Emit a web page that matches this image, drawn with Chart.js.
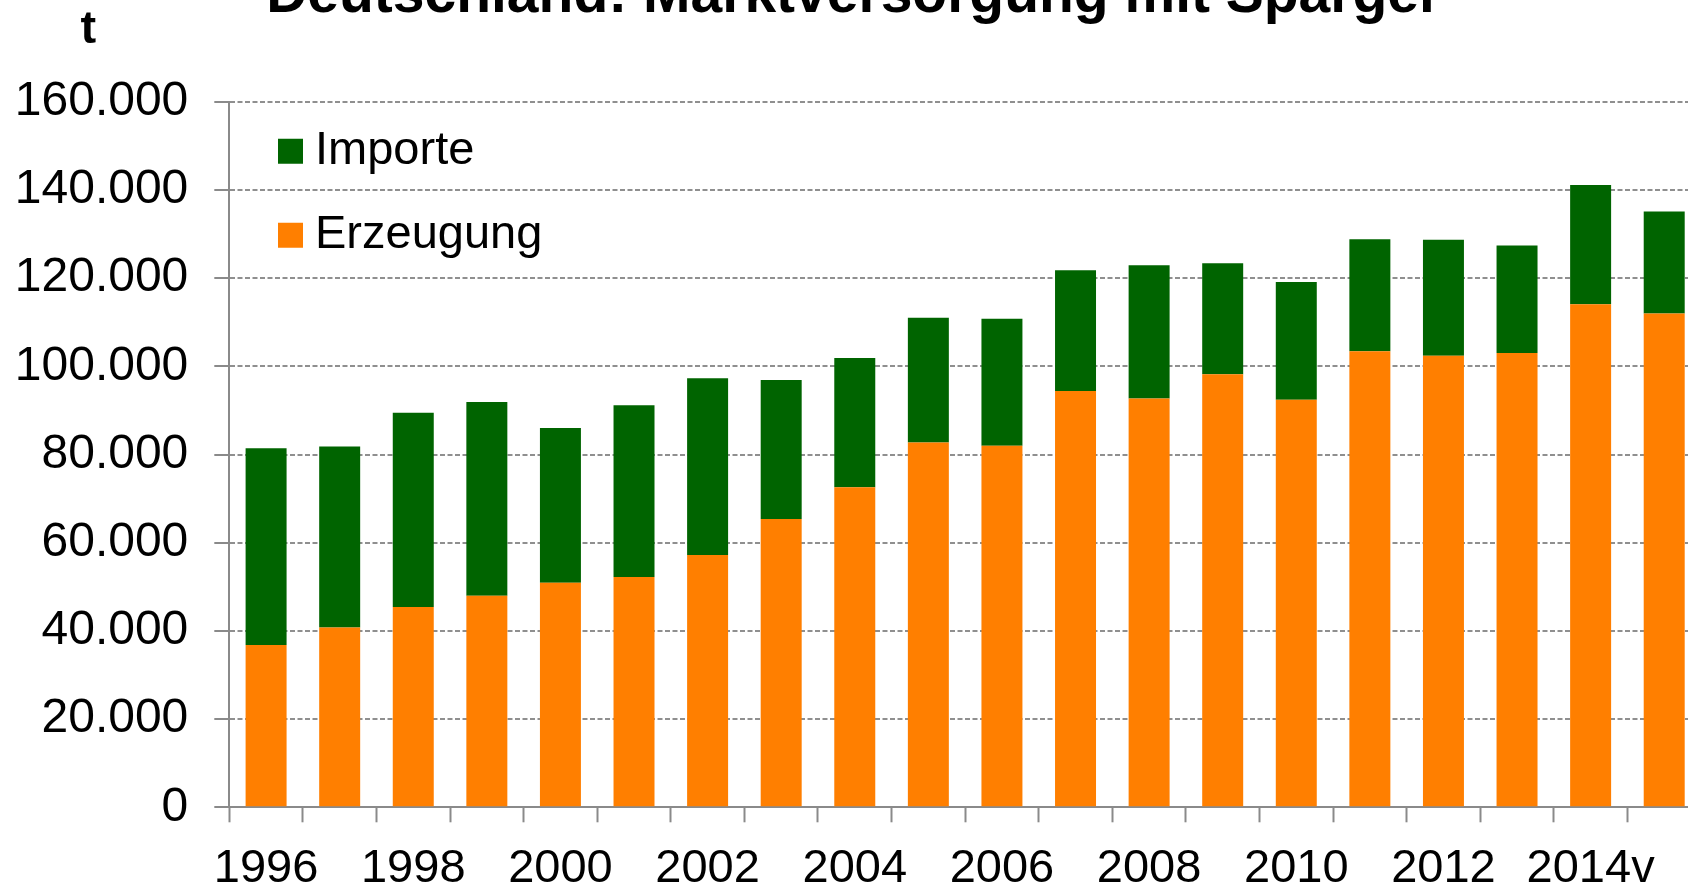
<!DOCTYPE html>
<html>
<head>
<meta charset="utf-8">
<script src="https://cdn.jsdelivr.net/npm/chart.js@4/dist/chart.umd.min.js"></script>
<style>
  html, body { margin: 0; padding: 0; background: #fff; overflow: hidden; width: 1688px; height: 887px; }
  #wrap { position: absolute; left: 0; top: -40px; width: 1710px; height: 940px; }
</style>
</head>
<body>
<div id="wrap"><canvas id="c"></canvas></div>
<script>
const years = ['1996','1997','1998','1999','2000','2001','2002','2003','2004','2005',
               '2006','2007','2008','2009','2010','2011','2012','2013','2014v','2015v'];
const erzeugung = [36800, 40800, 45400, 48000, 50900, 52200, 57200, 65400, 72600, 82700,
                   82000, 94400, 92700, 98200, 92400, 103400, 102400, 103000, 114100, 112000];
const importe   = [44600, 41000, 44100, 43900, 35100, 39000, 40100, 31500, 29300, 28300,
                   28800, 27400, 30200, 25200, 26700, 25400, 26300, 24400, 27000, 23100];
const yMax = 160000;
const yStep = 20000;
const titleText = 'Deutschland: Marktversorgung mit Spargel';
const unitText = 't';

const FONT = '"Liberation Sans", Arial, sans-serif';
const GREEN = '#006400';
const ORANGE = '#ff7f00';
const GREY = '#8a8a8a';
const GRIDGREY = '#8f8f8f';

function fmt(v) {
  return String(v).replace(/\B(?=(\d{3})+(?!\d))/g, '.');
}

const unitPlugin = {
  id: 'unitLabel',
  afterLayout(chart) {
    const ca = chart.chartArea;
    const lg = chart.legend;
    if (lg) {
      lg.left = ca.left + 23.2;
      lg.top = ca.top - 11;
      lg.right = ca.right;
      lg.bottom = ca.bottom;
      lg.width = lg.right - lg.left;
      lg.height = lg.bottom - lg.top;
    }
  },
  afterDraw(chart) {
    const ca = chart.chartArea;
    const ctx = chart.ctx;
    ctx.save();
    ctx.font = 'bold 47px ' + FONT;
    ctx.fillStyle = '#000';
    ctx.textAlign = 'center';
    ctx.textBaseline = 'alphabetic';
    ctx.fillText(unitText, ca.left - 141, ca.top - 58.7);
    ctx.restore();
  }
};

new Chart(document.getElementById('c'), {
  type: 'bar',
  data: {
    labels: years,
    datasets: [
      { label: 'Erzeugung', data: erzeugung, backgroundColor: ORANGE, borderWidth: 0 },
      { label: 'Importe', data: importe, backgroundColor: GREEN, borderWidth: 0 }
    ]
  },
  plugins: [unitPlugin],
  options: {
    responsive: true,
    maintainAspectRatio: false,
    animation: false,
    devicePixelRatio: 1,
    layout: { padding: { left: 0, right: 9, top: 0, bottom: 0 } },
    datasets: { bar: { barPercentage: 0.557, categoryPercentage: 1 } },
    plugins: {
      title: {
        display: true,
        text: titleText,
        color: '#000',
        font: { family: FONT, size: 57, weight: 'bold', lineHeight: 1 },
        padding: { top: 7.75, bottom: 77 }
      },
      legend: {
        position: 'chartArea',
        align: 'start',
        reverse: true,
        labels: {
          color: '#000',
          font: { family: FONT, size: 47 },
          boxWidth: 2,
          boxHeight: 2,
          padding: 37,
          generateLabels(chart) {
            const items = Chart.defaults.plugins.legend.labels.generateLabels(chart);
            items.forEach(it => {
              it.lineWidth = 23;
              it.strokeStyle = it.fillStyle;
              it.lineJoin = 'miter';
            });
            return items;
          }
        }
      },
      tooltip: { enabled: false }
    },
    scales: {
      x: {
        stacked: true,
        afterFit(s) { s.height = 92.7; },
        grid: { display: true, drawOnChartArea: false, drawTicks: true, tickLength: 15, tickColor: GREY, tickWidth: 2, offset: true },
        border: { display: true, color: GREY, width: 2 },
        ticks: {
          color: '#000',
          font: { family: FONT, size: 47 },
          padding: 19,
          autoSkip: false,
          maxRotation: 0,
          minRotation: 0,
          callback(value, index) { return index % 2 === 0 ? years[index] : ''; }
        }
      },
      y: {
        stacked: true,
        min: 0,
        max: yMax,
        afterFit(s) { s.width = 229.3; },
        grid: { display: true, drawOnChartArea: true, color: GRIDGREY, lineWidth: 2, drawTicks: true, tickLength: 15, tickColor: GREY, tickWidth: 2 },
        border: { display: true, color: GREY, width: 2, dash: [5, 2.5] },
        ticks: {
          stepSize: yStep,
          color: '#000',
          font: { family: FONT, size: 48 },
          padding: 26,
          callback(v) { return fmt(v); }
        }
      }
    }
  }
});
</script>
</body>
</html>
